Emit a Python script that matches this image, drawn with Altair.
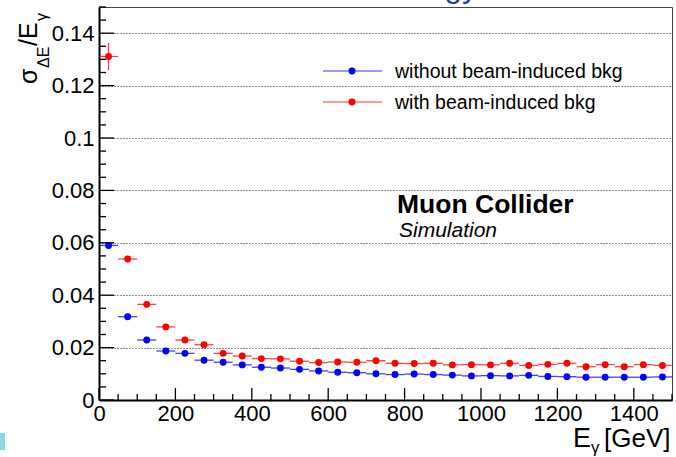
import altair as alt
import pandas as pd

# ---- data ----
bin_centers = [25, 75, 125, 175, 225, 275, 325, 375, 425, 475, 525, 575, 625, 675, 725,
               775, 825, 875, 925, 975, 1025, 1075, 1125, 1175, 1225, 1275, 1325, 1375, 1425, 1475]
bin_half_width = 25
res_without = [0.0590, 0.0318, 0.0229, 0.0187, 0.0178, 0.0152, 0.0144, 0.0134, 0.0125, 0.0122,
               0.0117, 0.0111, 0.0106, 0.0104, 0.0100, 0.0097, 0.0099, 0.0097, 0.0095, 0.0092,
               0.0093, 0.0092, 0.0094, 0.0090, 0.0089, 0.0087, 0.0087, 0.0087, 0.0087, 0.0088]
res_with = [0.1311, 0.0538, 0.0365, 0.0279, 0.0229, 0.0211, 0.0178, 0.0168, 0.0158, 0.0157,
            0.0148, 0.0143, 0.0145, 0.0144, 0.0150, 0.0140, 0.0139, 0.0140, 0.0134, 0.0135,
            0.0134, 0.0140, 0.0132, 0.0136, 0.0140, 0.0127, 0.0135, 0.0127, 0.0135, 0.0132]
err_without = [0.0008] + [0.0004] * 29
err_with = [0.0052, 0.0012, 0.0008] + [0.0005] * 27

series_names = ["without beam-induced bkg", "with beam-induced bkg"]
series_colors = ["#0000ff", "#ff0000"]

x_tick_values = [0, 200, 400, 600, 800, 1000, 1200, 1400]
x_minor_ticks = [v for v in range(0, 1501, 50) if v % 200]
y_tick_values = [0, 0.02, 0.04, 0.06, 0.08, 0.1, 0.12, 0.14]
y_minor_ticks = [round(0.005 * i, 3) for i in range(31) if i % 4]

rows = []
for name, vals, errs in [(series_names[0], res_without, err_without),
                         (series_names[1], res_with, err_with)]:
    for c, v, e in zip(bin_centers, vals, errs):
        rows.append({"series": name, "E": c, "Elo": c - bin_half_width, "Ehi": c + bin_half_width,
                     "res": v, "lo": v - e, "hi": v + e})
df = pd.DataFrame(rows)

W, H = 573, 393
FONT = "Liberation Sans"
xs = alt.Scale(domain=[0, 1500], nice=False, zero=False)
ys = alt.Scale(domain=[0, 0.15], nice=False, zero=False)
xaxis = alt.Axis(values=x_tick_values, format="d", title=None,
                 ticks=False, tickSize=0, labelPadding=3,
                 labelFontSize=22, labelFont=FONT, labelColor="black",
                 labelFlush=False, labelOverlap=False, grid=False,
                 domainColor="black", domainWidth=2)
yaxis = alt.Axis(values=y_tick_values, format="~g", title=None,
                 ticks=False, tickSize=0, labelPadding=5,
                 labelFontSize=22, labelFont=FONT, labelColor="black",
                 labelFlush=False, labelOverlap=False, grid=True,
                 gridDash=[1, 2], gridColor="#222", gridWidth=1,
                 domainColor="black", domainWidth=2)
color = alt.Color("series:N", scale=alt.Scale(domain=series_names, range=series_colors), legend=None)

base = alt.Chart(df)

xerr = base.mark_rule(strokeWidth=1.3, opacity=0.75).encode(
    x=alt.X("Elo:Q", scale=xs, axis=xaxis),
    x2="Ehi:Q",
    y=alt.Y("res:Q", scale=ys, axis=yaxis),
    color=color,
)
yerr = base.mark_rule(strokeWidth=1.3, opacity=0.75).encode(
    x=alt.X("E:Q", scale=xs, axis=xaxis),
    y=alt.Y("lo:Q", scale=ys, axis=yaxis),
    y2="hi:Q",
    color=color,
)
pts = base.mark_circle(size=48, opacity=1).encode(
    x=alt.X("E:Q", scale=xs, axis=xaxis),
    y=alt.Y("res:Q", scale=ys, axis=yaxis),
    color=color,
)

# inward ticks (ROOT style)
ymaj = alt.Chart(pd.DataFrame({"v": y_tick_values})).mark_rule(color="black", strokeWidth=1.3).encode(
    y=alt.Y("v:Q", scale=ys, axis=yaxis), x=alt.value(0), x2=alt.value(15))
ymin = alt.Chart(pd.DataFrame({"v": y_minor_ticks})).mark_rule(color="black", strokeWidth=1.3).encode(
    y=alt.Y("v:Q", scale=ys, axis=yaxis), x=alt.value(0), x2=alt.value(7))
xmaj = alt.Chart(pd.DataFrame({"v": x_tick_values})).mark_rule(color="black", strokeWidth=1.3).encode(
    x=alt.X("v:Q", scale=xs, axis=xaxis), y=alt.value(H), y2=alt.value(H - 12))
xmin = alt.Chart(pd.DataFrame({"v": x_minor_ticks})).mark_rule(color="black", strokeWidth=1.3).encode(
    x=alt.X("v:Q", scale=xs, axis=xaxis), y=alt.value(H), y2=alt.value(H - 6))

one = pd.DataFrame({"a": [0]})
layers = [xerr, yerr, pts, ymaj, ymin, xmaj, xmin]

# legend
for i, (name, col) in enumerate(zip(series_names, series_colors)):
    yy = 64 + 31 * i
    layers.append(alt.Chart(one).mark_rule(color=col, strokeWidth=1.2, opacity=0.8).encode(
        x=alt.value(224), x2=alt.value(283), y=alt.value(yy)))
    layers.append(alt.Chart(one).mark_circle(color=col, size=48, opacity=1).encode(
        x=alt.value(253), y=alt.value(yy)))
    layers.append(alt.Chart(one).mark_text(text=name, font=FONT, fontSize=19.5, align="left",
                                           baseline="middle", color="black").encode(
        x=alt.value(296), y=alt.value(yy + 1)))

def txt(s, x, y, size, **kw):
    return alt.Chart(one).mark_text(text=s, font=FONT, fontSize=size, color=kw.pop("color", "black"),
                                    align=kw.pop("align", "left"), baseline=kw.pop("baseline", "alphabetic"),
                                    **kw).encode(x=alt.value(x), y=alt.value(y))

layers += [
    txt("Muon Collider", 298, 206, 26.5, fontWeight="bold"),
    txt("Simulation", 300, 230, 21, fontStyle="italic"),
    # x title
    txt("E", 474, 440, 27),
    txt("γ", 492, 446, 17),
    txt("[GeV]", 505, 440, 26),
    # y title (rotated)
    txt("σ", -62, 77, 25, angle=270),
    txt("ΔE", -50, 61, 16, angle=270),
    txt("/E", -62, 39, 25, angle=270),
    txt("γ", -52, 14, 16, angle=270),
    # clipped page title remnant
    txt("Energy", 379, -10, 32, align="right", color="#1f3c98"),
]
layers.append(alt.Chart(one).mark_rect(color="#8ed6ec").encode(
    x=alt.value(-99), x2=alt.value(-94), y=alt.value(426), y2=alt.value(443)))

chart = alt.layer(*layers).properties(
    width=W, height=H,
    autosize=alt.AutoSizeParams(type="none"),
    padding={"left": 99, "top": 7, "right": 4, "bottom": 57},
    background="white",
).configure_view(stroke="#444", strokeWidth=1)

chart.save("out.html", embed_options={"renderer": "svg", "actions": False})
